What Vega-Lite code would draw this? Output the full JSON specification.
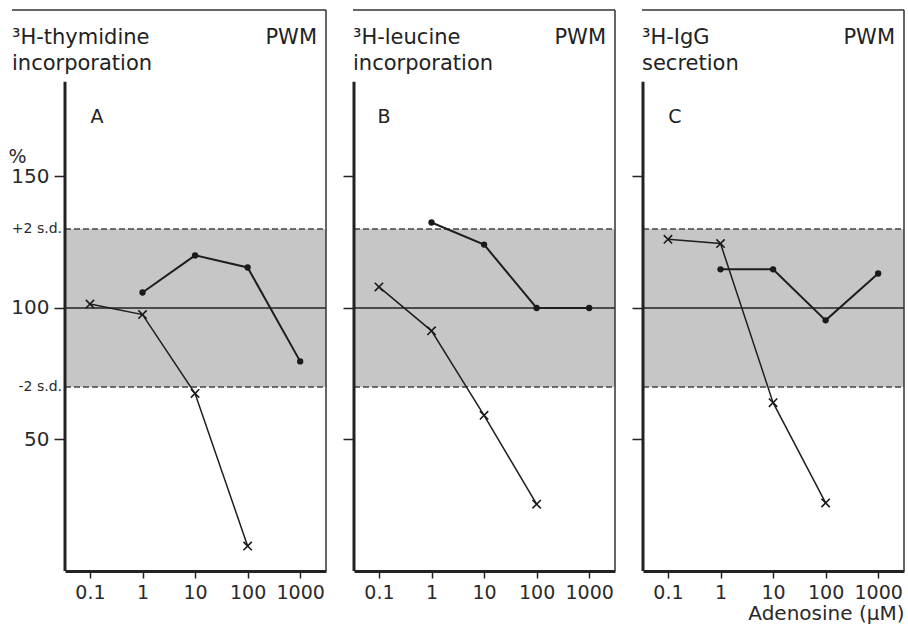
{
  "$schema": "https://vega.github.io/schema/vega-lite/v6.json",
  "background": "white",
  "padding": {"left": 8, "top": 9, "right": 6, "bottom": 5},
  "spacing": 15,
  "config": {
    "view": {"stroke": null},
    "axis": {"labelFont": "DejaVu Sans", "titleFont": "DejaVu Sans", "labelColor": "#2a2a2a", "titleColor": "#2a2a2a", "tickColor": "#222", "domainColor": "#222", "grid": false, "labelFontWeight": "normal"},
    "text": {"font": "DejaVu Sans", "color": "#222"}
  },
  "datasets": {
    "series": [
      {"panel": "A", "kind": "dot", "conc": 1, "pct": 105.9},
      {"panel": "A", "kind": "dot", "conc": 10, "pct": 120.0},
      {"panel": "A", "kind": "dot", "conc": 100, "pct": 115.4},
      {"panel": "A", "kind": "dot", "conc": 1000, "pct": 79.7},
      {"panel": "A", "kind": "cross", "conc": 0.1, "pct": 101.5},
      {"panel": "A", "kind": "cross", "conc": 1, "pct": 97.5},
      {"panel": "A", "kind": "cross", "conc": 10, "pct": 67.5},
      {"panel": "A", "kind": "cross", "conc": 100, "pct": 9.5},
      {"panel": "B", "kind": "dot", "conc": 1, "pct": 132.5},
      {"panel": "B", "kind": "dot", "conc": 10, "pct": 124.1},
      {"panel": "B", "kind": "dot", "conc": 100, "pct": 100.0},
      {"panel": "B", "kind": "dot", "conc": 1000, "pct": 100.0},
      {"panel": "B", "kind": "cross", "conc": 0.1, "pct": 108.0},
      {"panel": "B", "kind": "cross", "conc": 1, "pct": 91.3},
      {"panel": "B", "kind": "cross", "conc": 10, "pct": 59.2},
      {"panel": "B", "kind": "cross", "conc": 100, "pct": 25.4},
      {"panel": "C", "kind": "dot", "conc": 1, "pct": 114.7},
      {"panel": "C", "kind": "dot", "conc": 10, "pct": 114.7},
      {"panel": "C", "kind": "dot", "conc": 100, "pct": 95.3},
      {"panel": "C", "kind": "dot", "conc": 1000, "pct": 113.1},
      {"panel": "C", "kind": "cross", "conc": 0.1, "pct": 126.1},
      {"panel": "C", "kind": "cross", "conc": 1, "pct": 124.5},
      {"panel": "C", "kind": "cross", "conc": 10, "pct": 64.0},
      {"panel": "C", "kind": "cross", "conc": 100, "pct": 25.9}
    ],
    "heads": [
      {"panel": "A", "title": ["³H-thymidine", "incorporation"], "tag": "PWM", "letter": "A"},
      {"panel": "B", "title": ["³H-leucine", "incorporation"], "tag": "PWM", "letter": "B"},
      {"panel": "C", "title": ["³H-IgG", "secretion"], "tag": "PWM", "letter": "C"}
    ],
    "band": [{"lo": 70, "hi": 130}],
    "sd": [{"v": 70, "label": "-2 s.d."}, {"v": 130, "label": "+2 s.d."}],
    "ref": [{"v": 100}]
  },
  "hconcat": [
    {
      "width": 261, "height": 561,
      "layer": [
        {"data": {"name": "series"}, "transform": [{"filter": "datum.panel == 'A' && datum.kind == 'dot'"}],
         "mark": {"type": "line", "stroke": "#1e1e1e", "strokeWidth": 2, "opacity": 0},
         "encoding": {
           "x": {"field": "conc", "type": "quantitative", "scale": {"type": "log", "domain": [0.0335, 3100], "nice": false},
                 "axis": {"values": [0.1, 1, 10, 100, 1000], "format": "~g", "domainWidth": 3, "tickSize": 7, "tickWidth": 1.5, "labelFontSize": 19, "labelPadding": 5, "title": null}},
           "y": {"field": "pct", "type": "quantitative", "scale": {"domain": [0, 213.3], "nice": false},
                 "axis": {"values": [50, 100, 150], "domain": false, "tickSize": 11, "tickWidth": 1.5, "labelFontSize": 20, "labelPadding": 5,
                          "title": "%", "titleAngle": 0, "titleX": -57, "titleY": 152, "titleAlign": "left", "titleBaseline": "alphabetic", "titleFontSize": 19, "titleFontWeight": "normal"}}
         }},
        {"data": {"name": "band"}, "mark": {"type": "rect", "fill": "#c6c6c6"},
         "encoding": {"x": {"datum": 0.0335, "type": "quantitative"}, "x2": {"datum": 3100},
                      "y": {"field": "lo", "type": "quantitative"}, "y2": {"field": "hi"}}},
        {"data": {"name": "sd"}, "mark": {"type": "rule", "stroke": "#444", "strokeWidth": 1.5, "strokeDash": [6, 3]},
         "encoding": {"x": {"datum": 0.0335, "type": "quantitative"}, "x2": {"datum": 3100}, "y": {"field": "v", "type": "quantitative"}}},
        {"data": {"name": "sd"}, "mark": {"type": "text", "align": "right", "baseline": "middle", "fontSize": 14, "dx": -3, "color": "#2a2a2a"},
         "encoding": {"x": {"datum": 0.0335, "type": "quantitative"}, "y": {"field": "v", "type": "quantitative"}, "text": {"field": "label"}}},
        {"data": {"name": "ref"}, "mark": {"type": "rule", "stroke": "#222", "strokeWidth": 1.6},
         "encoding": {"x": {"datum": 0.0335, "type": "quantitative"}, "x2": {"datum": 3100}, "y": {"field": "v", "type": "quantitative"}}},
        {"data": {"values": [{}]}, "mark": {"type": "rule", "stroke": "#222", "strokeWidth": 3},
         "encoding": {"x": {"datum": 0.0335, "type": "quantitative"}, "y": {"datum": 0, "type": "quantitative"}, "y2": {"datum": 186}}},
        {"data": {"values": [{}]}, "mark": {"type": "rule", "stroke": "#333", "strokeWidth": 1.5, "xOffset": -53},
         "encoding": {"x": {"datum": 0.0335, "type": "quantitative"}, "x2": {"datum": 3100}, "y": {"datum": 213.3, "type": "quantitative"}}},
        {"data": {"values": [{}]}, "mark": {"type": "rule", "stroke": "#333", "strokeWidth": 1.5},
         "encoding": {"x": {"datum": 3100, "type": "quantitative"}, "y": {"datum": 0, "type": "quantitative"}, "y2": {"datum": 213.3}}},
        {"data": {"name": "heads"}, "transform": [{"filter": "datum.panel == 'A'"}],
         "mark": {"type": "text", "align": "left", "baseline": "alphabetic", "fontSize": 21, "lineHeight": 26, "dx": -53},
         "encoding": {"x": {"datum": 0.0335, "type": "quantitative"}, "y": {"datum": 200.3, "type": "quantitative"}, "text": {"field": "title"}}},
        {"data": {"name": "heads"}, "transform": [{"filter": "datum.panel == 'A'"}],
         "mark": {"type": "text", "align": "right", "baseline": "alphabetic", "fontSize": 21, "dx": -9},
         "encoding": {"x": {"datum": 3100, "type": "quantitative"}, "y": {"datum": 200.3, "type": "quantitative"}, "text": {"field": "tag"}}},
        {"data": {"name": "heads"}, "transform": [{"filter": "datum.panel == 'A'"}],
         "mark": {"type": "text", "align": "center", "baseline": "alphabetic", "fontSize": 19, "dx": 7},
         "encoding": {"x": {"datum": 0.1, "type": "quantitative"}, "y": {"datum": 170.2, "type": "quantitative"}, "text": {"field": "letter"}}},
        {"data": {"name": "series"}, "transform": [{"filter": "datum.panel == 'A' && datum.kind == 'dot'"}],
         "mark": {"type": "line", "stroke": "#1e1e1e", "strokeWidth": 2},
         "encoding": {"x": {"field": "conc", "type": "quantitative"}, "y": {"field": "pct", "type": "quantitative"}}},
        {"data": {"name": "series"}, "transform": [{"filter": "datum.panel == 'A' && datum.kind == 'cross'"}],
         "mark": {"type": "line", "stroke": "#1e1e1e", "strokeWidth": 1.5},
         "encoding": {"x": {"field": "conc", "type": "quantitative"}, "y": {"field": "pct", "type": "quantitative"}}},
        {"data": {"name": "series"}, "transform": [{"filter": "datum.panel == 'A' && datum.kind == 'dot'"}],
         "mark": {"type": "point", "shape": "circle", "filled": true, "fill": "#1a1a1a", "size": 40, "opacity": 1},
         "encoding": {"x": {"field": "conc", "type": "quantitative"}, "y": {"field": "pct", "type": "quantitative"}}},
        {"data": {"name": "series"}, "transform": [{"filter": "datum.panel == 'A' && datum.kind == 'cross'"}],
         "mark": {"type": "point", "shape": "M-1,-1L1,1M-1,1L1,-1", "filled": false, "stroke": "#1a1a1a", "strokeWidth": 1.6, "size": 70, "opacity": 1},
         "encoding": {"x": {"field": "conc", "type": "quantitative"}, "y": {"field": "pct", "type": "quantitative"}}}
      ]
    },
    {
      "width": 261, "height": 561,
      "layer": [
        {"data": {"name": "series"}, "transform": [{"filter": "datum.panel == 'B' && datum.kind == 'dot'"}],
         "mark": {"type": "line", "stroke": "#1e1e1e", "strokeWidth": 2, "opacity": 0},
         "encoding": {
           "x": {"field": "conc", "type": "quantitative", "scale": {"type": "log", "domain": [0.0335, 3100], "nice": false},
                 "axis": {"values": [0.1, 1, 10, 100, 1000], "format": "~g", "domainWidth": 3, "tickSize": 7, "tickWidth": 1.5, "labelFontSize": 19, "labelPadding": 5, "title": null}},
           "y": {"field": "pct", "type": "quantitative", "scale": {"domain": [0, 213.3], "nice": false},
                 "axis": {"values": [50, 100, 150], "domain": false, "tickSize": 11, "tickWidth": 1.5, "labels": false, "title": null}}
         }},
        {"data": {"name": "band"}, "mark": {"type": "rect", "fill": "#c6c6c6"},
         "encoding": {"x": {"datum": 0.0335, "type": "quantitative"}, "x2": {"datum": 3100},
                      "y": {"field": "lo", "type": "quantitative"}, "y2": {"field": "hi"}}},
        {"data": {"name": "sd"}, "mark": {"type": "rule", "stroke": "#444", "strokeWidth": 1.5, "strokeDash": [6, 3]},
         "encoding": {"x": {"datum": 0.0335, "type": "quantitative"}, "x2": {"datum": 3100}, "y": {"field": "v", "type": "quantitative"}}},
        {"data": {"name": "ref"}, "mark": {"type": "rule", "stroke": "#222", "strokeWidth": 1.6},
         "encoding": {"x": {"datum": 0.0335, "type": "quantitative"}, "x2": {"datum": 3100}, "y": {"field": "v", "type": "quantitative"}}},
        {"data": {"values": [{}]}, "mark": {"type": "rule", "stroke": "#222", "strokeWidth": 3},
         "encoding": {"x": {"datum": 0.0335, "type": "quantitative"}, "y": {"datum": 0, "type": "quantitative"}, "y2": {"datum": 186}}},
        {"data": {"values": [{}]}, "mark": {"type": "rule", "stroke": "#333", "strokeWidth": 1.5, "xOffset": -1},
         "encoding": {"x": {"datum": 0.0335, "type": "quantitative"}, "x2": {"datum": 3100}, "y": {"datum": 213.3, "type": "quantitative"}}},
        {"data": {"values": [{}]}, "mark": {"type": "rule", "stroke": "#333", "strokeWidth": 1.5},
         "encoding": {"x": {"datum": 3100, "type": "quantitative"}, "y": {"datum": 0, "type": "quantitative"}, "y2": {"datum": 213.3}}},
        {"data": {"name": "heads"}, "transform": [{"filter": "datum.panel == 'B'"}],
         "mark": {"type": "text", "align": "left", "baseline": "alphabetic", "fontSize": 21, "lineHeight": 26, "dx": -1},
         "encoding": {"x": {"datum": 0.0335, "type": "quantitative"}, "y": {"datum": 200.3, "type": "quantitative"}, "text": {"field": "title"}}},
        {"data": {"name": "heads"}, "transform": [{"filter": "datum.panel == 'B'"}],
         "mark": {"type": "text", "align": "right", "baseline": "alphabetic", "fontSize": 21, "dx": -9},
         "encoding": {"x": {"datum": 3100, "type": "quantitative"}, "y": {"datum": 200.3, "type": "quantitative"}, "text": {"field": "tag"}}},
        {"data": {"name": "heads"}, "transform": [{"filter": "datum.panel == 'B'"}],
         "mark": {"type": "text", "align": "center", "baseline": "alphabetic", "fontSize": 19, "dx": 5},
         "encoding": {"x": {"datum": 0.1, "type": "quantitative"}, "y": {"datum": 170.2, "type": "quantitative"}, "text": {"field": "letter"}}},
        {"data": {"name": "series"}, "transform": [{"filter": "datum.panel == 'B' && datum.kind == 'dot'"}],
         "mark": {"type": "line", "stroke": "#1e1e1e", "strokeWidth": 2},
         "encoding": {"x": {"field": "conc", "type": "quantitative"}, "y": {"field": "pct", "type": "quantitative"}}},
        {"data": {"name": "series"}, "transform": [{"filter": "datum.panel == 'B' && datum.kind == 'cross'"}],
         "mark": {"type": "line", "stroke": "#1e1e1e", "strokeWidth": 1.5},
         "encoding": {"x": {"field": "conc", "type": "quantitative"}, "y": {"field": "pct", "type": "quantitative"}}},
        {"data": {"name": "series"}, "transform": [{"filter": "datum.panel == 'B' && datum.kind == 'dot'"}],
         "mark": {"type": "point", "shape": "circle", "filled": true, "fill": "#1a1a1a", "size": 40, "opacity": 1},
         "encoding": {"x": {"field": "conc", "type": "quantitative"}, "y": {"field": "pct", "type": "quantitative"}}},
        {"data": {"name": "series"}, "transform": [{"filter": "datum.panel == 'B' && datum.kind == 'cross'"}],
         "mark": {"type": "point", "shape": "M-1,-1L1,1M-1,1L1,-1", "filled": false, "stroke": "#1a1a1a", "strokeWidth": 1.6, "size": 70, "opacity": 1},
         "encoding": {"x": {"field": "conc", "type": "quantitative"}, "y": {"field": "pct", "type": "quantitative"}}}
      ]
    },
    {
      "width": 261, "height": 561,
      "layer": [
        {"data": {"name": "series"}, "transform": [{"filter": "datum.panel == 'C' && datum.kind == 'dot'"}],
         "mark": {"type": "line", "stroke": "#1e1e1e", "strokeWidth": 2, "opacity": 0},
         "encoding": {
           "x": {"field": "conc", "type": "quantitative", "scale": {"type": "log", "domain": [0.0335, 3100], "nice": false},
                 "axis": {"values": [0.1, 1, 10, 100, 1000], "format": "~g", "domainWidth": 3, "tickSize": 7, "tickWidth": 1.5, "labelFontSize": 19, "labelPadding": 5,
                          "title": "Adenosine (µM)", "titleAnchor": "end", "titleFontSize": 20, "titleFontWeight": "normal", "titlePadding": 1}},
           "y": {"field": "pct", "type": "quantitative", "scale": {"domain": [0, 213.3], "nice": false},
                 "axis": {"values": [50, 100, 150], "domain": false, "tickSize": 11, "tickWidth": 1.5, "labels": false, "title": null}}
         }},
        {"data": {"name": "band"}, "mark": {"type": "rect", "fill": "#c6c6c6"},
         "encoding": {"x": {"datum": 0.0335, "type": "quantitative"}, "x2": {"datum": 3100},
                      "y": {"field": "lo", "type": "quantitative"}, "y2": {"field": "hi"}}},
        {"data": {"name": "sd"}, "mark": {"type": "rule", "stroke": "#444", "strokeWidth": 1.5, "strokeDash": [6, 3]},
         "encoding": {"x": {"datum": 0.0335, "type": "quantitative"}, "x2": {"datum": 3100}, "y": {"field": "v", "type": "quantitative"}}},
        {"data": {"name": "ref"}, "mark": {"type": "rule", "stroke": "#222", "strokeWidth": 1.6},
         "encoding": {"x": {"datum": 0.0335, "type": "quantitative"}, "x2": {"datum": 3100}, "y": {"field": "v", "type": "quantitative"}}},
        {"data": {"values": [{}]}, "mark": {"type": "rule", "stroke": "#222", "strokeWidth": 3},
         "encoding": {"x": {"datum": 0.0335, "type": "quantitative"}, "y": {"datum": 0, "type": "quantitative"}, "y2": {"datum": 186}}},
        {"data": {"values": [{}]}, "mark": {"type": "rule", "stroke": "#333", "strokeWidth": 1.5, "xOffset": -1},
         "encoding": {"x": {"datum": 0.0335, "type": "quantitative"}, "x2": {"datum": 3100}, "y": {"datum": 213.3, "type": "quantitative"}}},
        {"data": {"values": [{}]}, "mark": {"type": "rule", "stroke": "#333", "strokeWidth": 1.5},
         "encoding": {"x": {"datum": 3100, "type": "quantitative"}, "y": {"datum": 0, "type": "quantitative"}, "y2": {"datum": 213.3}}},
        {"data": {"name": "heads"}, "transform": [{"filter": "datum.panel == 'C'"}],
         "mark": {"type": "text", "align": "left", "baseline": "alphabetic", "fontSize": 21, "lineHeight": 26, "dx": -1},
         "encoding": {"x": {"datum": 0.0335, "type": "quantitative"}, "y": {"datum": 200.3, "type": "quantitative"}, "text": {"field": "title"}}},
        {"data": {"name": "heads"}, "transform": [{"filter": "datum.panel == 'C'"}],
         "mark": {"type": "text", "align": "right", "baseline": "alphabetic", "fontSize": 21, "dx": -9},
         "encoding": {"x": {"datum": 3100, "type": "quantitative"}, "y": {"datum": 200.3, "type": "quantitative"}, "text": {"field": "tag"}}},
        {"data": {"name": "heads"}, "transform": [{"filter": "datum.panel == 'C'"}],
         "mark": {"type": "text", "align": "center", "baseline": "alphabetic", "fontSize": 19, "dx": 7},
         "encoding": {"x": {"datum": 0.1, "type": "quantitative"}, "y": {"datum": 170.2, "type": "quantitative"}, "text": {"field": "letter"}}},
        {"data": {"name": "series"}, "transform": [{"filter": "datum.panel == 'C' && datum.kind == 'dot'"}],
         "mark": {"type": "line", "stroke": "#1e1e1e", "strokeWidth": 2},
         "encoding": {"x": {"field": "conc", "type": "quantitative"}, "y": {"field": "pct", "type": "quantitative"}}},
        {"data": {"name": "series"}, "transform": [{"filter": "datum.panel == 'C' && datum.kind == 'cross'"}],
         "mark": {"type": "line", "stroke": "#1e1e1e", "strokeWidth": 1.5},
         "encoding": {"x": {"field": "conc", "type": "quantitative"}, "y": {"field": "pct", "type": "quantitative"}}},
        {"data": {"name": "series"}, "transform": [{"filter": "datum.panel == 'C' && datum.kind == 'dot'"}],
         "mark": {"type": "point", "shape": "circle", "filled": true, "fill": "#1a1a1a", "size": 40, "opacity": 1},
         "encoding": {"x": {"field": "conc", "type": "quantitative"}, "y": {"field": "pct", "type": "quantitative"}}},
        {"data": {"name": "series"}, "transform": [{"filter": "datum.panel == 'C' && datum.kind == 'cross'"}],
         "mark": {"type": "point", "shape": "M-1,-1L1,1M-1,1L1,-1", "filled": false, "stroke": "#1a1a1a", "strokeWidth": 1.6, "size": 70, "opacity": 1},
         "encoding": {"x": {"field": "conc", "type": "quantitative"}, "y": {"field": "pct", "type": "quantitative"}}}
      ]
    }
  ]
}
